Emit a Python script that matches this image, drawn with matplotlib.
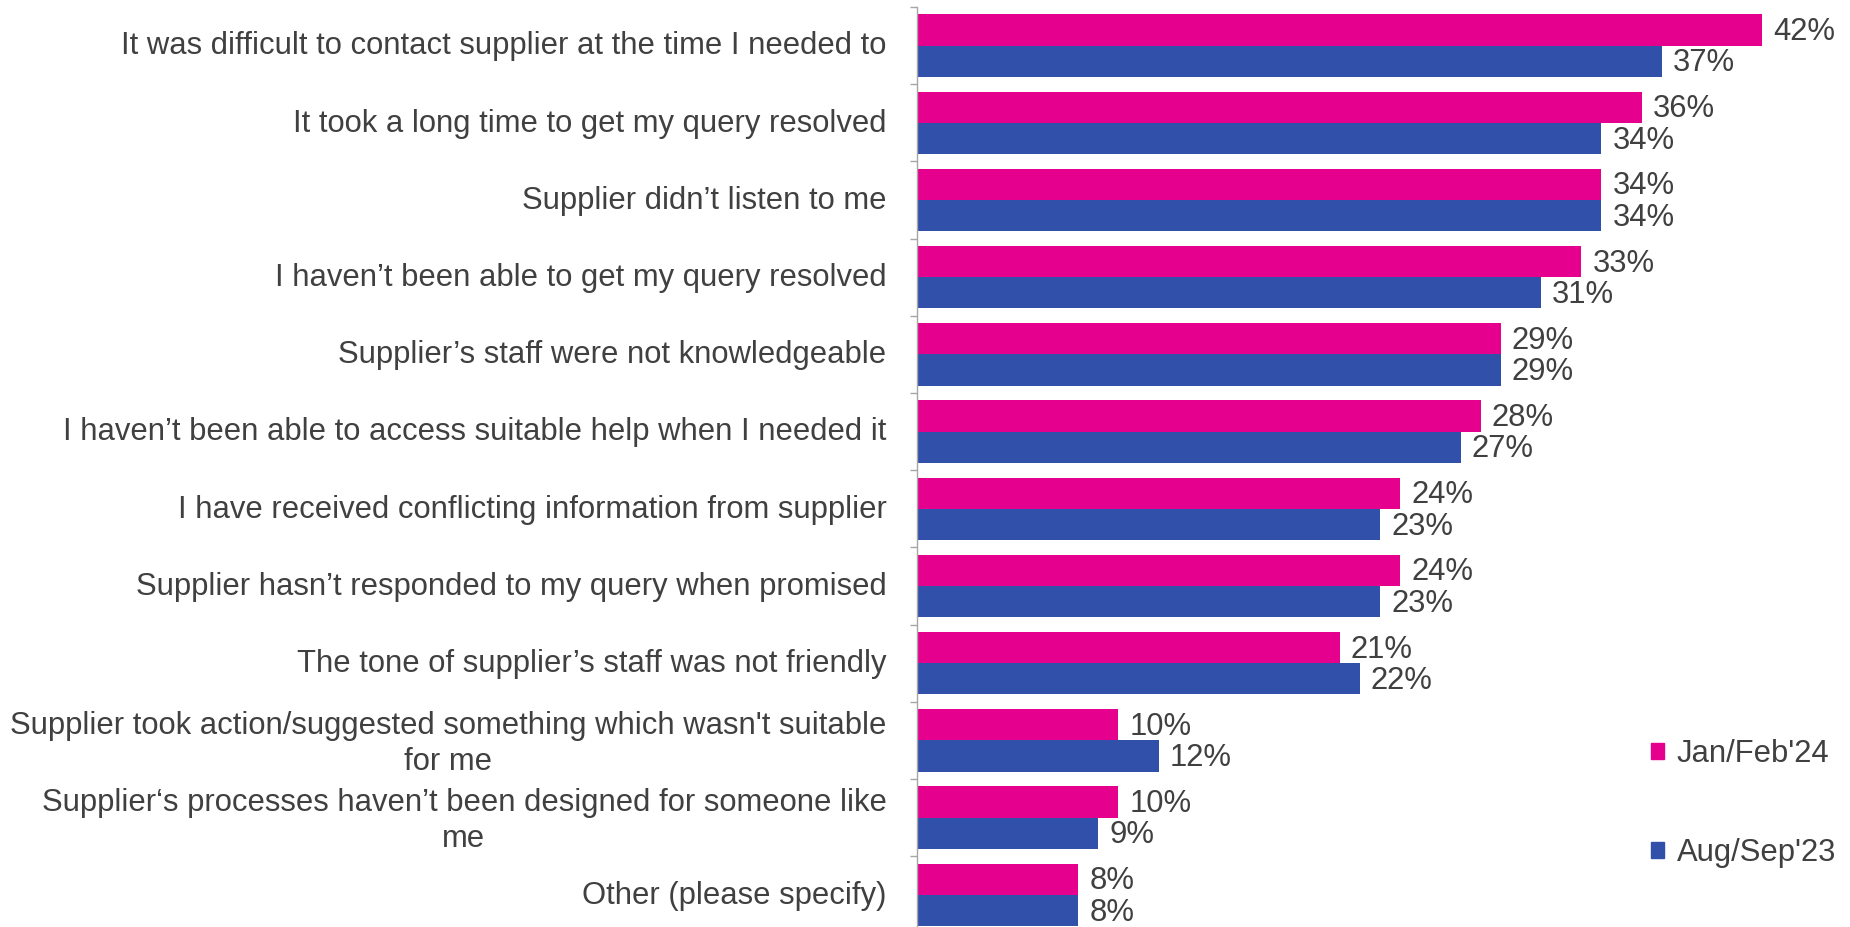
import numpy as np
import matplotlib
matplotlib.use("Agg")
import matplotlib.pyplot as plt
from matplotlib.patches import Patch

plt.rcParams["font.family"] = ["Liberation Sans", "DejaVu Sans"]

reasons = [
    "It was difficult to contact supplier at the time I needed to",
    "It took a long time to get my query resolved",
    "Supplier didn\u2019t listen to me",
    "I haven\u2019t been able to get my query resolved",
    "Supplier\u2019s staff were not knowledgeable",
    "I haven\u2019t been able to access suitable help when I needed it",
    "I have received conflicting information from supplier",
    "Supplier hasn\u2019t responded to my query when promised",
    "The tone of supplier\u2019s staff was not friendly",
    "Supplier took action/suggested something which wasn't suitable\nfor me",
    "Supplier\u2018s processes haven\u2019t been designed for someone like\nme",
    "Other (please specify)",
]
jan_feb_24 = [42, 36, 34, 33, 29, 28, 24, 24, 21, 10, 10, 8]
aug_sep_23 = [37, 34, 34, 31, 29, 27, 23, 23, 22, 12, 9, 8]
series_names = ["Jan/Feb'24", "Aug/Sep'23"]

PINK = "#E6008E"
BLUE = "#3150AA"
TEXT = "#404040"
AXIS = "#A6A6A6"

W, H = 1850, 927
fig = plt.figure(figsize=(W / 100, H / 100), dpi=100)

# axis line sits at x=917px; rows are ~77px tall starting just below the top
left = 917 / W
top = 1 - 7 / H
height = 12 * 77.2 / H
ax = fig.add_axes([left, top - height, 1 - left, height])

y = np.arange(len(reasons))
bh = 0.405
ax.barh(y - bh / 2, jan_feb_24, height=bh, color=PINK)
ax.barh(y + bh / 2, aug_sep_23, height=bh, color=BLUE)

fs = 22.3
for yi, v in zip(y, jan_feb_24):
    ax.annotate(f"{v}%", (v, yi - bh / 2), xytext=(8, -1.5), textcoords="offset points",
                va="center", ha="left", fontsize=fs, color=TEXT)
for yi, v in zip(y, aug_sep_23):
    ax.annotate(f"{v}%", (v, yi + bh / 2), xytext=(8, -1.5), textcoords="offset points",
                va="center", ha="left", fontsize=fs, color=TEXT)

ax.set_xlim(0, (W - 917) / 20.13)
ax.set_ylim(len(reasons) - 0.5, -0.5)

# category names, right-aligned against the axis; wrapped ones centred line by line
for yi, name in zip(y, reasons):
    ax.annotate(name, (0, yi), xycoords=("axes fraction", "data"),
                xytext=(-22, 2), textcoords="offset points",
                ha="right", va="center_baseline", multialignment="center",
                linespacing=1.25, fontsize=fs, color=TEXT)

ax.set_yticks([])
ax.set_yticks(np.arange(len(reasons) + 1) - 0.5, minor=True)
ax.tick_params(axis="y", which="minor", length=5, color=AXIS, width=1, labelleft=False)
ax.set_xticks([])

for s in ["top", "right", "bottom"]:
    ax.spines[s].set_visible(False)
ax.spines["left"].set_color(AXIS)
ax.spines["left"].set_linewidth(1)

handles = [Patch(color=PINK), Patch(color=BLUE)]
fig.legend(handles, series_names, loc="upper left", bbox_to_anchor=(1636 / W, 1 - 724 / H),
           frameon=False, fontsize=fs, labelcolor=TEXT, handlelength=0.42, handleheight=0.42,
           handletextpad=0.4, labelspacing=2.22, borderpad=0)

fig.savefig("out.png", dpi=100)
